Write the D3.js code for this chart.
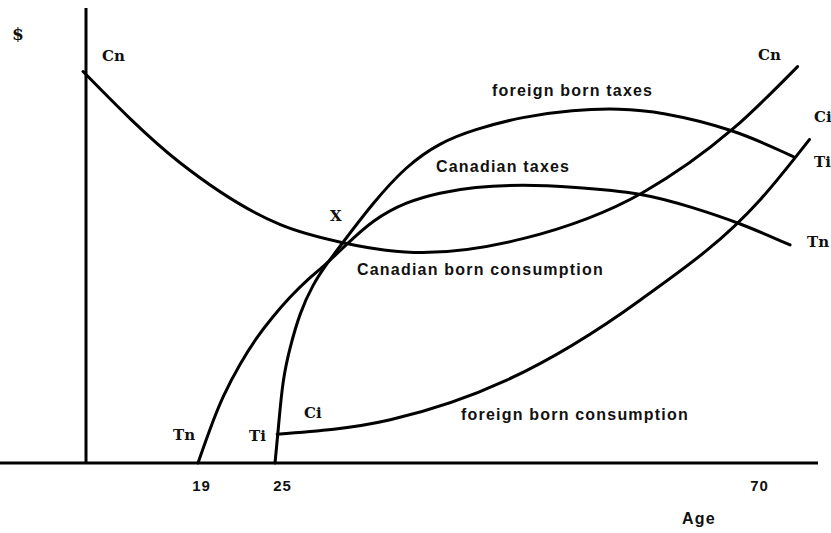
<!DOCTYPE html>
<html>
<head>
<meta charset="utf-8">
<script src="https://cdn.jsdelivr.net/npm/d3@7"></script>
<style>
  body { margin: 0; background: #fff; }
  svg { display: block; }
  .lbl { font-family: "DejaVu Serif", serif; font-weight: bold; font-size: 15px; fill: #111; }
  .txt { font-family: "Liberation Sans", Arial, sans-serif; font-weight: bold; font-size: 16px; letter-spacing: 1.2px; fill: #111; }
</style>
</head>
<body>
<div id="chart"></div>
<script>
var w = 831,
	h = 533;

//Ages on the horizontal axis (the drawing is not to scale, so the scale is piecewise)
var ageStops = [-14.6, 0, 19, 25, 70, 75.4];
var agePx = [0, 86, 198, 275, 760, 818];
var tickAges = [19, 25, 70];

//Curves as [age, $]
var cnData = [ //Canadian born consumption
  [-0.5, 86.9], [15.9, 66.7], [25.5, 52.9], [31.3, 48.9], [38.7, 46.7],
  [48.0, 49.8], [59.1, 60.0], [67.5, 74.2], [73.5, 88.0]
];
var tnData = [ //Canadian taxes
  [19, 0], [19.9, 7.3], [20.9, 14.7], [22.3, 22.2], [23.6, 28.0], [24.8, 32.4],
  [26.4, 36.9], [28.0, 40.7], [29.5, 43.6], [31.5, 48.2], [34.1, 54.0], [37.2, 58.0],
  [40.3, 60.0], [43.4, 61.3], [48.0, 61.8], [52.6, 61.3], [59.1, 60.0], [63.8, 56.7],
  [68.1, 53.3], [72.8, 48.4]
];
var tiData = [ //foreign born taxes
  [25, 0], [25.3, 7.3], [25.7, 18.4], [26.4, 25.8], [27.3, 33.3], [28.5, 39.6],
  [29.8, 44.2], [31.0, 48.0], [34.1, 57.8], [37.2, 66.0], [40.3, 71.1], [43.4, 74.0],
  [48.0, 76.9], [52.6, 78.4], [57.0, 78.7], [60.7, 78.0], [67.5, 74.2], [73.1, 68.0]
];
var ciData = [ //foreign born consumption
  [25.2, 6.4], [35.7, 9.6], [46.5, 18.4], [58.9, 36.2], [70.0, 58.4], [74.6, 71.8]
];

//Scales
var x = d3.scaleLinear().domain(ageStops).range(agePx);
var y = d3.scaleLinear().domain([0, 101]).range([463, 8]);

var svg = d3.select("#chart")
	.append("svg")
	.attr("width", w)
	.attr("height", h);

////////////////////////////////////////////
/////////////// Axes ///////////////////////
////////////////////////////////////////////

svg.append("line")
	.attr("x1", x(0)).attr("x2", x(0))
	.attr("y1", y(101)).attr("y2", y(0))
	.attr("stroke", "#000")
	.attr("stroke-width", 3);

svg.append("line")
	.attr("x1", x(ageStops[0])).attr("x2", x(ageStops[ageStops.length - 1]))
	.attr("y1", y(0)).attr("y2", y(0))
	.attr("stroke", "#000")
	.attr("stroke-width", 3);

var xAxis = svg.append("g")
	.attr("transform", "translate(0," + y(0) + ")")
	.call(d3.axisBottom(x).tickValues(tickAges).tickSize(0).tickPadding(17));
xAxis.select(".domain").remove();
xAxis.selectAll("text")
	.attr("class", "txt")
	.style("font-size", "15px")
	.style("letter-spacing", "1px")
	.attr("dx", function(d) { return d == 19 ? 3 : d == 25 ? 7 : -1; });

svg.append("text")
	.attr("class", "txt")
	.attr("x", 682).attr("y", 524)
	.text("Age");

svg.append("text")
	.attr("class", "lbl")
	.style("font-size", "17px")
	.attr("x", 12).attr("y", 40)
	.text("$");

////////////////////////////////////////////
/////////////// Curves /////////////////////
////////////////////////////////////////////

//Sparse curves go through their points, the densely traced ones are smoothed
var curves = [
  {pts: cnData, curve: d3.curveMonotoneX},
  {pts: tnData, curve: d3.curveBasis},
  {pts: tiData, curve: d3.curveBasis},
  {pts: ciData, curve: d3.curveMonotoneX}
];

svg.selectAll(".curve")
	.data(curves)
	.enter()
	.append("path")
	.attr("class", "curve")
	.attr("d", function(c) {
		return d3.line()
			.x(function(d) { return x(d[0]); })
			.y(function(d) { return y(d[1]); })
			.curve(c.curve)(c.pts);
	})
	.attr("fill", "none")
	.attr("stroke", "#000")
	.attr("stroke-width", 3)
	.attr("stroke-linecap", "round");

////////////////////////////////////////////
/////////////// Labels /////////////////////
////////////////////////////////////////////

var symLabels = [
  {t: "Cn", x: 102, y: 61}, {t: "Cn", x: 758, y: 60}, {t: "Ci", x: 814, y: 122},
  {t: "Ti", x: 814, y: 167}, {t: "Tn", x: 807, y: 247}, {t: "X", x: 330, y: 221},
  {t: "Ci", x: 304, y: 418}, {t: "Tn", x: 173, y: 440}, {t: "Ti", x: 249, y: 441}
];
svg.selectAll(".sym")
	.data(symLabels)
	.enter()
	.append("text")
	.attr("class", "lbl sym")
	.attr("x", function(d) { return d.x; })
	.attr("y", function(d) { return d.y; })
	.text(function(d) { return d.t; });

var curveNames = [
  {t: "foreign born taxes", x: 492, y: 96},
  {t: "Canadian taxes", x: 436, y: 172},
  {t: "Canadian born consumption", x: 357, y: 275},
  {t: "foreign born consumption", x: 461, y: 420}
];
svg.selectAll(".name")
	.data(curveNames)
	.enter()
	.append("text")
	.attr("class", "txt name")
	.attr("x", function(d) { return d.x; })
	.attr("y", function(d) { return d.y; })
	.text(function(d) { return d.t; });
</script>
</body>
</html>
